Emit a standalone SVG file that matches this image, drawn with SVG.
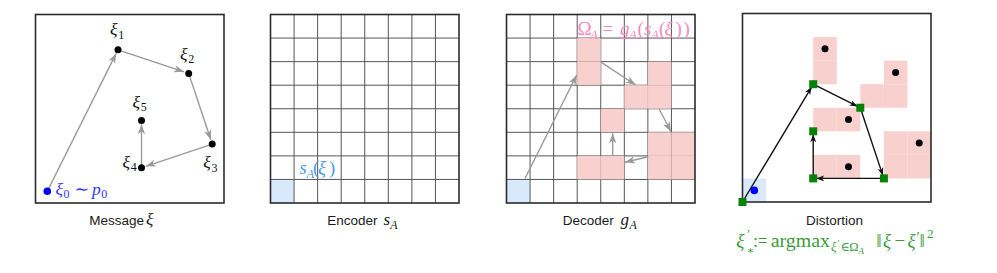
<svg xmlns="http://www.w3.org/2000/svg" xmlns:xlink="http://www.w3.org/1999/xlink" width="997" height="273" viewBox="0 0 997 273">
<style>
.frame{fill:none;stroke:#2b2b2b;stroke-width:1.6}
.grid{fill:none;stroke:#555;stroke-width:1}
.cap{font-family:"Liberation Sans",Arial,sans-serif;font-size:13.5px;fill:#1a1a1a}
.m{font-family:"Liberation Serif","DejaVu Serif",serif;font-style:italic}
.r{font-family:"Liberation Serif","DejaVu Serif",serif}
.lab{font-size:17.5px;fill:#111}
.sub{font-size:12px}
.garrow{fill:none;stroke:#9a9a9a;stroke-width:1.4}
.karrow{fill:none;stroke:#111;stroke-width:1.4}
.dot{fill:#000}
.gsq{fill:#058205}
</style>
<defs>
<marker id="ag" viewBox="0 0 10 8" refX="10" refY="4" markerWidth="10" markerHeight="8" markerUnits="userSpaceOnUse" orient="auto">
<path d="M0,0.3 L10,4 L0,7.7 L2.8,4 z" fill="#9a9a9a"/>
</marker>
<marker id="ak" viewBox="0 0 10 8" refX="10" refY="4" markerWidth="8" markerHeight="6.4" markerUnits="userSpaceOnUse" orient="auto">
<path d="M0,0.3 L10,4 L0,7.7 L2.8,4 z" fill="#111"/>
</marker>
<path id="gridp" class="grid" d="M23.5625,0V188.5M47.125,0V188.5M70.6875,0V188.5M94.25,0V188.5M117.8125,0V188.5M141.375,0V188.5M164.9375,0V188.5M0,23.5625H188.5M0,47.125H188.5M0,70.6875H188.5M0,94.25H188.5M0,117.8125H188.5M0,141.375H188.5M0,164.9375H188.5"/>
<rect id="pc" width="23.5625" height="23.5625" fill="#f8cecc"/>
<rect id="bc" width="23.5625" height="23.5625" fill="#dae8fc"/>
</defs>

<!-- Panel 1: Message -->
<g id="panel-message">
<rect class="frame" x="35.5" y="14.5" width="188.5" height="188.5"/>
<text class="cap" x="89.3" y="225">Message</text>
<text class="m" x="146" y="225" font-size="17px" fill="#1a1a1a">ξ</text>
</g>
<g id="connectors-message">
<line class="garrow" x1="47.3" y1="191.2" x2="116.2" y2="53.4" marker-end="url(#ag)"/>
<line class="garrow" x1="118" y1="49.8" x2="184" y2="71.8" marker-end="url(#ag)"/>
<line class="garrow" x1="188.7" y1="73.4" x2="210.8" y2="139.8" marker-end="url(#ag)"/>
<line class="garrow" x1="212.2" y1="144.1" x2="145.8" y2="166.3" marker-end="url(#ag)"/>
<line class="garrow" x1="141.5" y1="167.7" x2="141.5" y2="124.3" marker-end="url(#ag)"/>
</g>
<g id="xi0"><circle cx="47.3" cy="191.2" r="3.8" fill="#0000ff"/>
<text class="lab" style="fill:#3434ff"><tspan class="m" x="55.5" y="194.5">ξ</tspan><tspan class="r sub" x="63.6" y="198">0</tspan><tspan class="r" x="74.5" y="194.5">∼</tspan><tspan class="m" x="92" y="194.5">p</tspan><tspan class="r sub" x="101.3" y="198">0</tspan></text></g>
<g id="xi1"><circle class="dot" cx="118" cy="49.8" r="3.5"/>
<text class="lab"><tspan class="m" x="110" y="35">ξ</tspan><tspan class="r sub" x="118.3" y="38.5">1</tspan></text></g>
<g id="xi2"><circle class="dot" cx="188.7" cy="73.4" r="3.5"/>
<text class="lab"><tspan class="m" x="180" y="59.5">ξ</tspan><tspan class="r sub" x="188.3" y="63">2</tspan></text></g>
<g id="xi3"><circle class="dot" cx="212.2" cy="144.1" r="3.5"/>
<text class="lab"><tspan class="m" x="203.3" y="168">ξ</tspan><tspan class="r sub" x="211.6" y="171.5">3</tspan></text></g>
<g id="xi4"><circle class="dot" cx="141.5" cy="167.7" r="3.5"/>
<text class="lab"><tspan class="m" x="122.5" y="167.5">ξ</tspan><tspan class="r sub" x="130.8" y="171">4</tspan></text></g>
<g id="xi5"><circle class="dot" cx="141.5" cy="120.6" r="3.5"/>
<text class="lab"><tspan class="m" x="132.5" y="107.5">ξ</tspan><tspan class="r sub" x="140.8" y="111">5</tspan></text></g>

<!-- Panel 2: Encoder -->
<g id="panel-encoder">
<use xlink:href="#bc" href="#bc" x="270.5" y="179.44"/>
<use xlink:href="#gridp" href="#gridp" x="270.5" y="14.5"/>
<rect class="frame" x="270.5" y="14.5" width="188.5" height="188.5"/>
<text font-size="18.5px" fill="#4c9be6"><tspan class="m" x="299.5" y="174">s</tspan><tspan class="m" font-size="12.5px" x="306.5" y="177.5">A</tspan><tspan class="r" x="313" y="174">(</tspan><tspan class="m" x="318" y="174">ξ</tspan><tspan class="r" x="329" y="174">)</tspan></text>
<text class="cap" x="327.3" y="225">Encoder</text>
<text fill="#1a1a1a"><tspan class="m" font-size="17px" x="383.5" y="225">s</tspan><tspan class="m" font-size="12px" x="390.3" y="228.5">A</tspan></text>
</g>

<!-- Panel 3: Decoder -->
<g id="panel-decoder">
<use xlink:href="#bc" href="#bc" x="506.5" y="179.44"/>
<use xlink:href="#gridp" href="#gridp" x="506.5" y="14.5"/>
<g opacity="0.95">
<use href="#pc" xlink:href="#pc" x="577.19" y="38.06"/>
<use href="#pc" xlink:href="#pc" x="577.19" y="61.63"/>
<use href="#pc" xlink:href="#pc" x="647.88" y="61.63"/>
<use href="#pc" xlink:href="#pc" x="624.31" y="85.19"/>
<use href="#pc" xlink:href="#pc" x="647.88" y="85.19"/>
<use href="#pc" xlink:href="#pc" x="600.75" y="108.75"/>
<use href="#pc" xlink:href="#pc" x="647.88" y="132.31"/>
<use href="#pc" xlink:href="#pc" x="671.44" y="132.31"/>
<use href="#pc" xlink:href="#pc" x="647.88" y="155.88"/>
<use href="#pc" xlink:href="#pc" x="671.44" y="155.88"/>
<use href="#pc" xlink:href="#pc" x="577.19" y="155.88"/>
<use href="#pc" xlink:href="#pc" x="600.75" y="155.88"/>
</g>
<rect class="frame" x="506.5" y="14.5" width="188.5" height="188.5"/>
<text font-size="19px" fill="#f58ac0"><tspan class="r" x="577.5" y="35">Ω</tspan><tspan class="m" font-size="13px" x="590" y="38.5">A</tspan><tspan class="r" x="602.5" y="35">=</tspan><tspan class="m" x="620" y="35">g</tspan><tspan class="m" font-size="13px" x="629" y="38.5">A</tspan><tspan class="r" x="637.5" y="35">(</tspan><tspan class="m" x="644" y="35">s</tspan><tspan class="m" font-size="13px" x="651" y="38.5">A</tspan><tspan class="r" x="659" y="35">(</tspan><tspan class="m" x="664.5" y="35">ξ</tspan><tspan class="r" x="675.5" y="35">)</tspan><tspan class="r" x="683.5" y="35">)</tspan></text>
<text class="cap" x="562.7" y="225">Decoder</text>
<text fill="#1a1a1a"><tspan class="m" font-size="17px" x="620.5" y="225">g</tspan><tspan class="m" font-size="12px" x="629.5" y="228.5">A</tspan></text>
</g>
<g id="connectors-decoder">
<line class="garrow" x1="525" y1="178.5" x2="576.7" y2="75" marker-end="url(#ag)"/>
<line class="garrow" x1="601.7" y1="62.7" x2="635.7" y2="85" marker-end="url(#ag)"/>
<line class="garrow" x1="659.3" y1="109.3" x2="671" y2="131.7" marker-end="url(#ag)"/>
<line class="garrow" x1="648.3" y1="156.7" x2="625" y2="162.3" marker-end="url(#ag)"/>
<line class="garrow" x1="612.7" y1="156" x2="612.7" y2="133.3" marker-end="url(#ag)"/>
</g>

<!-- Panel 4: Distortion -->
<g id="panel-distortion">
<use xlink:href="#bc" href="#bc" x="742.5" y="178.44"/>
<g opacity="0.95">
<use href="#pc" xlink:href="#pc" x="813.19" y="37.06"/>
<use href="#pc" xlink:href="#pc" x="813.19" y="60.63"/>
<use href="#pc" xlink:href="#pc" x="883.88" y="60.63"/>
<use href="#pc" xlink:href="#pc" x="860.31" y="84.19"/>
<use href="#pc" xlink:href="#pc" x="883.88" y="84.19"/>
<use href="#pc" xlink:href="#pc" x="813.19" y="107.75"/>
<use href="#pc" xlink:href="#pc" x="836.75" y="107.75"/>
<use href="#pc" xlink:href="#pc" x="883.88" y="131.31"/>
<use href="#pc" xlink:href="#pc" x="907.44" y="131.31"/>
<use href="#pc" xlink:href="#pc" x="883.88" y="154.88"/>
<use href="#pc" xlink:href="#pc" x="907.44" y="154.88"/>
<use href="#pc" xlink:href="#pc" x="813.19" y="154.88"/>
<use href="#pc" xlink:href="#pc" x="836.75" y="154.88"/>
</g>
<rect class="frame" x="742.5" y="13.5" width="188.5" height="188.5"/>
<circle class="dot" cx="825" cy="48.8" r="3.5"/>
<circle class="dot" cx="895.6" cy="72.4" r="3.5"/>
<circle class="dot" cx="848.5" cy="119.5" r="3.5"/>
<circle class="dot" cx="919.2" cy="143.1" r="3.5"/>
<circle class="dot" cx="848.5" cy="166.7" r="3.5"/>
<circle cx="754.3" cy="190.4" r="3.8" fill="#0000ff"/>
<text class="cap" x="806" y="225">Distortion</text>
<g fill="#3c9b3c">
<text class="m" font-size="19px" x="736.3" y="246.5">ξ</text>
<text class="r" font-size="13px" x="747.2" y="238">′</text>
<text class="r" font-size="11px" x="746.8" y="253.5">∗</text>
<text class="r" font-size="19px" x="753.3" y="246.5" textLength="14" lengthAdjust="spacingAndGlyphs">:=</text>
<text class="r" font-size="18px" x="770.7" y="246.5" textLength="59.3" lengthAdjust="spacingAndGlyphs">argmax</text>
<text font-size="12.5px" y="251"><tspan class="m" x="831">ξ</tspan><tspan class="r" font-size="10px" x="837.5" y="247">′</tspan><tspan class="r" x="840.5" y="251">∈</tspan><tspan class="r" x="849.3">Ω</tspan><tspan class="m" font-size="9px" x="858.5" y="253.5">A</tspan></text>
<text font-size="19px" y="246.5"><tspan class="r" x="876.2">‖</tspan><tspan class="m" x="883">ξ</tspan><tspan class="r" x="894.5">−</tspan><tspan class="m" x="907.5">ξ</tspan><tspan class="r" font-size="15px" x="916.5" y="242">′</tspan><tspan class="r" x="919.5" y="246.5">‖</tspan></text>
<text class="r" font-size="13px" x="927" y="238">2</text>
</g>
</g>
<g id="connectors-distortion">
<line class="karrow" x1="742.5" y1="202" x2="811.7" y2="86.8" marker-end="url(#ak)"/>
<line class="karrow" x1="813.2" y1="84.2" x2="857.6" y2="106.4" marker-end="url(#ak)"/>
<line class="karrow" x1="860.3" y1="107.75" x2="882.9" y2="175.6" marker-end="url(#ak)"/>
<line class="karrow" x1="883.9" y1="178.4" x2="816.2" y2="178.4" marker-end="url(#ak)"/>
<line class="karrow" x1="813.2" y1="178.4" x2="813.2" y2="134.3" marker-end="url(#ak)"/>
</g>
<g id="green-points">
<rect class="gsq" x="738.5" y="198" width="8" height="8"/>
<rect class="gsq" x="809.2" y="80.2" width="8" height="8"/>
<rect class="gsq" x="856.3" y="103.75" width="8" height="8"/>
<rect class="gsq" x="809.2" y="127.3" width="8" height="8"/>
<rect class="gsq" x="809.2" y="174.4" width="8" height="8"/>
<rect class="gsq" x="879.9" y="174.4" width="8" height="8"/>
</g>
</svg>
